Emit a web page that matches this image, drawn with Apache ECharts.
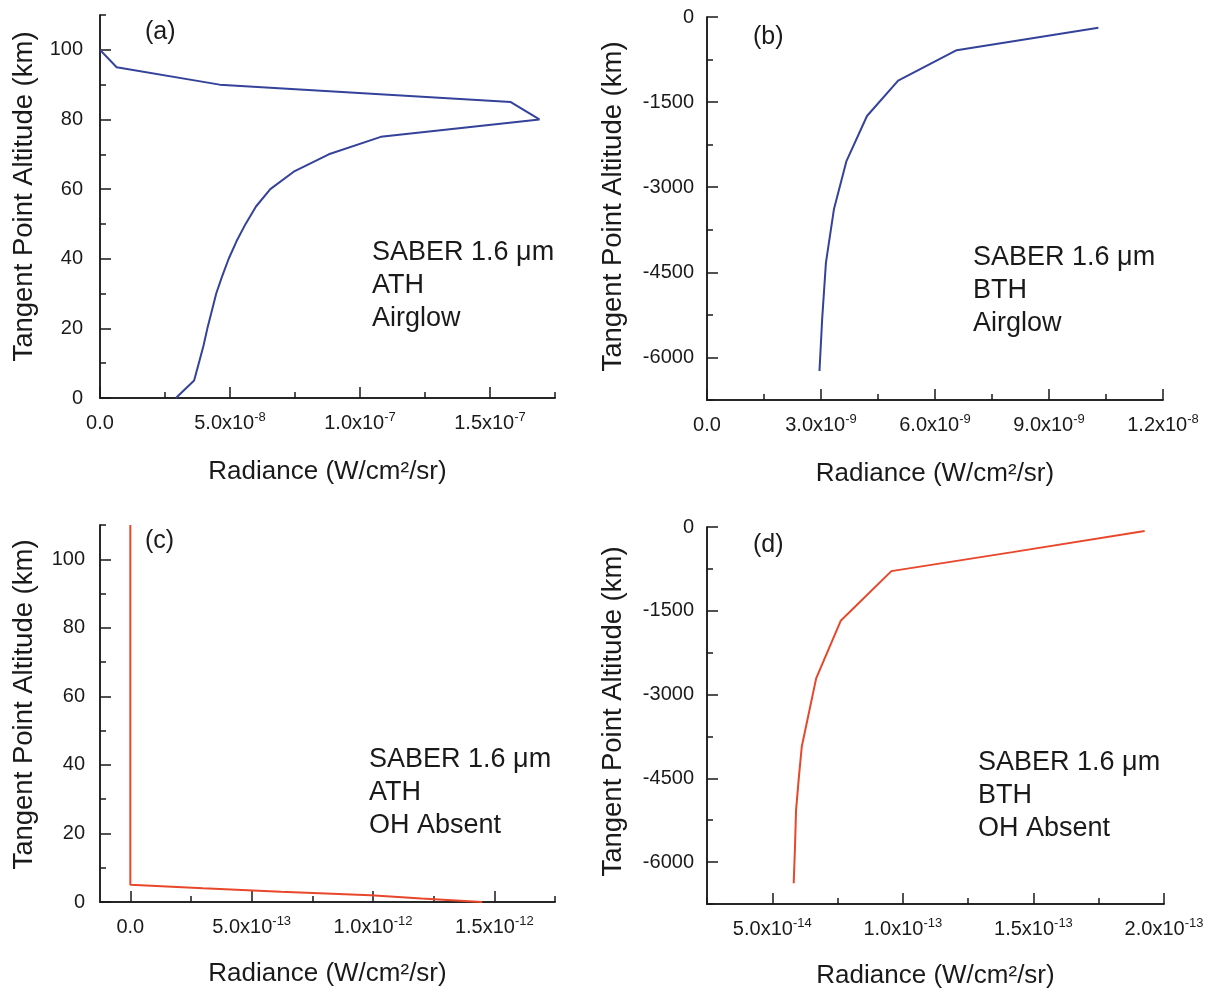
<!DOCTYPE html>
<html><head><meta charset="utf-8">
<script src="https://cdn.jsdelivr.net/npm/echarts@6/dist/echarts.min.js"></script>
<style>html,body{margin:0;padding:0;background:#fff}#c{width:1211px;height:992px}</style>
</head><body><div id="c"></div>
<script>
// ---------- data ----------
// (a) ATH, airglow
const aAltitude = [100, 95, 90, 85, 80, 75, 70, 65, 60, 55, 50, 45, 40, 35, 30, 25, 20, 15, 10, 5, 0];
const aRadiance = [0, 6.4e-9, 4.6e-8, 1.58e-7, 1.69e-7, 1.08e-7, 8.8e-8, 7.45e-8, 6.55e-8, 6.0e-8, 5.6e-8,
                   5.25e-8, 4.95e-8, 4.7e-8, 4.47e-8, 4.3e-8, 4.13e-8, 3.98e-8, 3.8e-8, 3.62e-8, 2.92e-8];
// (b) BTH, airglow
const bAltitude = [-190, -585, -1120, -1745, -2540, -3390, -4330, -5330, -6240];
const bRadiance = [1.03e-8, 6.57e-9, 5.03e-9, 4.21e-9, 3.67e-9, 3.34e-9, 3.13e-9, 3.03e-9, 2.96e-9];
// (c) ATH, OH absent
const cAltitude = [110, 100, 80, 60, 40, 20, 10, 5, 4, 3, 2, 1, 0];
const cRadiance = [0, 0, 0, 0, 0, 0, 0, 0, 3.0e-13, 6.2e-13, 9.9e-13, 1.2e-12, 1.45e-12];
// (d) BTH, OH absent
const dAltitude = [-70, -450, -790, -1680, -2710, -3930, -4470, -5070, -5720, -6380];
const dRadiance = [1.926e-13, 1.42e-13, 9.56e-14, 7.62e-14, 6.68e-14, 6.13e-14, 6.02e-14, 5.91e-14, 5.87e-14, 5.82e-14];

// ---------- ticks ----------
const athMajor = [0, 20, 40, 60, 80, 100];
const athMinor = [10, 30, 50, 70, 90, 110];
const bthMajor = [-6000, -4500, -3000, -1500, 0];
const bthMinor = [-6750, -5250, -3750, -2250, -750];
const aXMajor = [0, 5e-8, 1e-7, 1.5e-7];
const aXMinor = [2.5e-8, 7.5e-8, 1.25e-7, 1.75e-7];
const bXMajor = [0, 3e-9, 6e-9, 9e-9, 1.2e-8];
const bXMinor = [1.5e-9, 4.5e-9, 7.5e-9, 1.05e-8];
const cXMajor = [0, 5e-13, 1e-12, 1.5e-12];
const cXMinor = [2.5e-13, 7.5e-13, 1.25e-12, 1.75e-12];
const dXMajor = [5e-14, 1e-13, 1.5e-13, 2e-13];
const dXMinor = [2.5e-14, 7.5e-14, 1.25e-13, 1.75e-13];

const yTitle = 'Tangent Point Altitude (km)';
const xTitle = 'Radiance (W/cm\u00B2/sr)';
const notes = ['SABER 1.6 \u03BCm\nATH\nAirglow', 'SABER 1.6 \u03BCm\nBTH\nAirglow',
               'SABER 1.6 \u03BCm\nATH\nOH Absent', 'SABER 1.6 \u03BCm\nBTH\nOH Absent'];
const letters = ['(a)', '(b)', '(c)', '(d)'];

// ---------- rendering ----------
const FONT = '"Liberation Sans", Arial, Helvetica, sans-serif';
const INK = '#1a1a1a';
const BLUE = '#34429a';
const RED = '#e8472b';

function sciLabel(v) {
  if (Math.abs(v) < 1e-30) return '{m|0.0}';
  const e = Math.floor(Math.log10(Math.abs(v)) + 1e-9);
  const m = v / Math.pow(10, e);
  return '{m|' + m.toFixed(1) + 'x10}{e|' + e + '}';
}

const panels = [
  {grid:{left:100, top:15, width:455, height:383}, x:[0, 1.75e-7], y:[0, 110], xMaj:aXMajor, xMin:aXMinor,
   yMaj:athMajor, yMin:athMinor, alt:aAltitude, rad:aRadiance, color:BLUE, yGap:62, xGap:61, yLabM:17, yShift:20,
   note:{left:372, top:236}, letter:{left:145, top:20}},
  {grid:{left:707, top:17, width:456, height:383}, x:[0, 1.2e-8], y:[-6750, 0], xMaj:bXMajor, xMin:bXMinor,
   yMaj:bthMajor, yMin:bthMinor, alt:bAltitude, rad:bRadiance, color:BLUE, yGap:80, xGap:61, yLabM:13, yShift:4,
   note:{left:973, top:241}, letter:{left:753, top:25}},
  {grid:{left:100, top:525, width:455, height:377}, x:[-1.25e-13, 1.75e-12], y:[0, 110], xMaj:cXMajor, xMin:cXMinor,
   yMaj:athMajor, yMin:athMinor, alt:cAltitude, rad:cRadiance, color:RED, yGap:62, xGap:59, yLabM:15, yShift:18,
   note:{left:369, top:743}, letter:{left:145, top:529}},
  {grid:{left:707, top:527, width:457, height:377}, x:[2.5e-14, 2e-13], y:[-6750, 0], xMaj:dXMajor, xMin:dXMinor,
   yMaj:bthMajor, yMin:bthMinor, alt:dAltitude, rad:dRadiance, color:RED, yGap:80, xGap:59, yLabM:13, yShift:8,
   note:{left:978, top:746}, letter:{left:753, top:533}}
];

const grid = [], xAxis = [], yAxis = [], series = [], graphic = [];
const axisLine = {show:true, onZero:false, lineStyle:{color:INK, width:1.5}};

panels.forEach((p, i) => {
  grid.push(Object.assign({containLabel:false}, p.grid));
  xAxis.push({
    type:'value', gridIndex:i, position:'bottom', min:p.x[0], max:p.x[1],
    axisLine, splitLine:{show:false},
    axisTick:{show:true, inside:true, length:11, customValues:p.xMaj, lineStyle:{color:INK, width:1.5}},
    axisLabel:{show:true, customValues:p.xMaj, margin:13, formatter:sciLabel, color:INK,
      rich:{m:{fontSize:20, fontFamily:FONT, color:INK, lineHeight:24},
            e:{fontSize:13, fontFamily:FONT, color:INK, verticalAlign:'top', lineHeight:13}}},
    name:xTitle, nameLocation:'middle', nameGap:p.xGap,
    nameTextStyle:{fontSize:26, fontFamily:FONT, color:INK}
  });
  xAxis.push({
    type:'value', gridIndex:i, position:'bottom', min:p.x[0], max:p.x[1],
    axisLine, splitLine:{show:false},
    axisTick:{show:true, inside:true, length:6, customValues:p.xMin, lineStyle:{color:INK, width:1.5}},
    axisLabel:{show:false}
  });
  yAxis.push({
    type:'value', gridIndex:i, position:'left', min:p.y[0], max:p.y[1],
    axisLine, splitLine:{show:false},
    axisTick:{show:true, inside:true, length:11, customValues:p.yMaj, lineStyle:{color:INK, width:1.5}},
    axisLabel:{show:true, customValues:p.yMaj, margin:p.yLabM, fontSize:20, fontFamily:FONT, color:INK,
      formatter:(v) => String(v)},
    name:yTitle, nameLocation:'middle', nameGap:p.yGap,
    nameTextStyle:{fontSize:27.5, fontFamily:FONT, color:INK, padding:[0, 0, 0, p.yShift]}
  });
  yAxis.push({
    type:'value', gridIndex:i, position:'left', min:p.y[0], max:p.y[1],
    axisLine, splitLine:{show:false},
    axisTick:{show:true, inside:true, length:6, customValues:p.yMin, lineStyle:{color:INK, width:1.5}},
    axisLabel:{show:false}
  });
  series.push({
    type:'line', xAxisIndex:2*i, yAxisIndex:2*i, showSymbol:false, symbol:'none',
    lineStyle:{color:p.color, width:2}, animation:false, z:3,
    data:p.rad.map((r, k) => [r, p.alt[k]])
  });
  graphic.push({type:'text', left:p.letter.left, top:p.letter.top,
    style:{text:letters[i], fontSize:25, fontFamily:FONT, fill:INK}});
  graphic.push({type:'text', left:p.note.left, top:p.note.top,
    style:{text:notes[i], fontSize:27, lineHeight:33, fontFamily:FONT, fill:INK}});
});

const chart = echarts.init(document.getElementById('c'), null, {renderer:'canvas'});
chart.setOption({animation:false, backgroundColor:'#fff', grid, xAxis, yAxis, series, graphic});
</script></body></html>
